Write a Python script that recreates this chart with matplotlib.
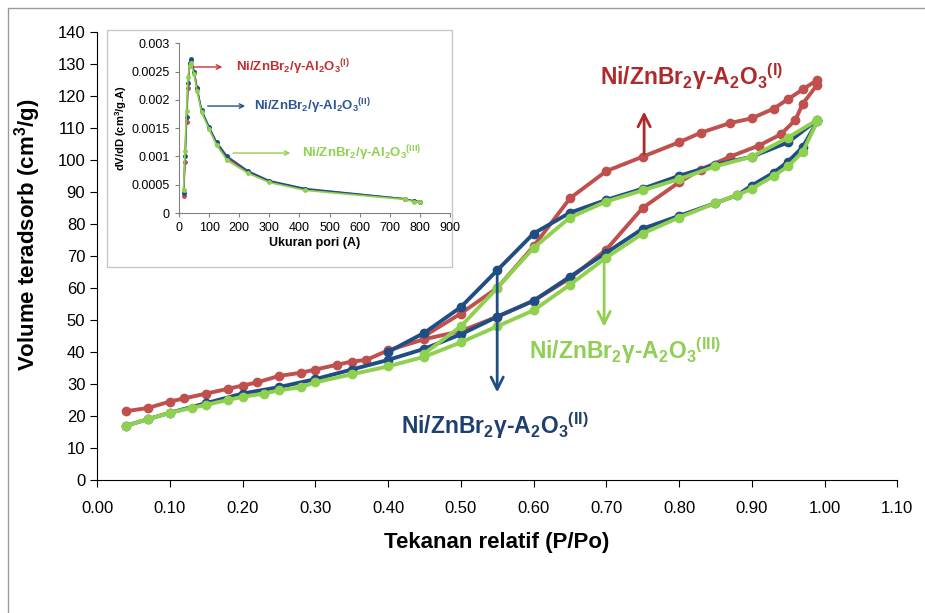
import matplotlib
matplotlib.use('Agg')
import matplotlib.pyplot as plt
from matplotlib.patches import Rectangle

plt.rcParams['font.family'] = ['Liberation Sans', 'DejaVu Sans']
plt.rcParams['mathtext.fontset'] = 'custom'
plt.rcParams['mathtext.rm'] = 'Liberation Sans'

# colours
red = '#c0504d'
blue = '#1f4e85'
green = '#8fd14f'

# isotherms: adsorption (lower) and desorption (upper) branches
red_ads_p = [0.04, 0.07, 0.10, 0.12, 0.15, 0.18, 0.20, 0.22, 0.25, 0.28, 0.30, 0.33, 0.35, 0.37, 0.40,
             0.45, 0.50, 0.55, 0.60, 0.65, 0.70, 0.75, 0.80, 0.83, 0.87, 0.91, 0.94, 0.96, 0.97, 0.99]
red_ads_v = [21.5, 22.5, 24.5, 25.5, 27.0, 28.5, 29.5, 30.5, 32.5, 33.5, 34.5, 36.0, 37.0, 37.5, 40.5,
             44.0, 46.5, 51.0, 56.0, 63.0, 72.0, 85.0, 93.0, 97.0, 101.0, 104.5, 108.0, 112.5, 117.5, 123.5]
red_des_p = [0.99, 0.97, 0.95, 0.93, 0.90, 0.87, 0.83, 0.80, 0.75, 0.70, 0.65, 0.60, 0.55, 0.50, 0.45]
red_des_v = [125.0, 122.0, 119.0, 116.0, 113.0, 111.5, 108.5, 105.5, 101.0, 96.5, 88.0, 73.0, 60.0, 52.0, 45.0]

blue_ads_p = [0.04, 0.07, 0.10, 0.15, 0.20, 0.25, 0.30, 0.35, 0.40, 0.45, 0.50, 0.55, 0.60, 0.65,
              0.70, 0.75, 0.80, 0.85, 0.88, 0.90, 0.93, 0.95, 0.97, 0.99]
blue_ads_v = [17.0, 19.0, 21.0, 24.0, 27.0, 29.0, 31.5, 34.5, 37.5, 41.0, 45.5, 51.0, 56.0, 63.5,
              71.0, 78.5, 82.5, 86.5, 89.0, 92.0, 96.0, 99.5, 104.0, 112.0]
blue_des_p = [0.99, 0.95, 0.90, 0.85, 0.80, 0.75, 0.70, 0.65, 0.60, 0.55, 0.50, 0.45, 0.40]
blue_des_v = [112.5, 105.5, 101.0, 98.5, 95.0, 91.0, 87.5, 83.5, 77.0, 65.5, 54.0, 46.0, 40.0]

green_ads_p = [0.04, 0.07, 0.10, 0.13, 0.15, 0.18, 0.20, 0.23, 0.25, 0.28, 0.30, 0.35, 0.40, 0.45,
               0.50, 0.55, 0.60, 0.65, 0.70, 0.75, 0.80, 0.85, 0.88, 0.90, 0.93, 0.95, 0.97, 0.99]
green_ads_v = [17.0, 19.0, 21.0, 22.5, 23.5, 25.0, 26.0, 27.0, 28.0, 29.0, 30.5, 33.0, 35.5, 38.5,
               43.0, 48.0, 53.0, 61.0, 69.5, 77.0, 82.0, 86.5, 89.0, 91.0, 95.0, 98.0, 102.5, 112.0]
green_des_p = [0.99, 0.95, 0.90, 0.85, 0.80, 0.75, 0.70, 0.65, 0.60, 0.55, 0.50, 0.45]
green_des_v = [112.5, 107.0, 101.0, 98.0, 94.0, 90.5, 87.0, 82.0, 72.5, 60.0, 48.0, 39.5]

# inset: pore size distribution
pore_d = [15, 20, 25, 30, 35, 40, 50, 60, 75, 100, 125, 160, 230, 300, 420, 750, 780, 800]
red_dv = [0.0003, 0.0009, 0.0016, 0.0022, 0.0026, 0.0027, 0.0025, 0.0022, 0.0018, 0.0015,
          0.00122, 0.00097, 0.00072, 0.00056, 0.00042, 0.00025, 0.00021, 0.0002]
blue_dv = [0.00035, 0.001, 0.0017, 0.0023, 0.00265, 0.00272, 0.0025, 0.0022, 0.00182, 0.00152,
           0.00125, 0.001, 0.00074, 0.00057, 0.00043, 0.00025, 0.00021, 0.0002]
green_dv = [0.0004, 0.0011, 0.0018, 0.0024, 0.0026, 0.00265, 0.00245, 0.00215, 0.00178, 0.00148,
            0.0012, 0.00093, 0.0007, 0.00054, 0.0004, 0.00024, 0.0002, 0.0002]

x_ticks = [0.0, 0.1, 0.2, 0.3, 0.4, 0.5, 0.6, 0.7, 0.8, 0.9, 1.0, 1.1]
y_ticks = list(range(0, 150, 10))

fig = plt.figure(figsize=(9.25, 6.13), dpi=100)
fig.patches.append(Rectangle((8/925, -0.1), 1.0, 1.1 - 8/613, transform=fig.transFigure,
                             fill=False, edgecolor='#9a9a9a', linewidth=1.0))

ax = fig.add_axes([0.105, 0.217, 0.865, 0.731])
for p, v, c in [(red_ads_p, red_ads_v, red), (red_des_p, red_des_v, red),
                (blue_ads_p, blue_ads_v, blue), (blue_des_p, blue_des_v, blue),
                (green_ads_p, green_ads_v, green), (green_des_p, green_des_v, green)]:
    ax.plot(p, v, color=c, marker='o', markersize=6, linewidth=2.8)

ax.set_xlim(0, 1.1)
ax.set_ylim(0, 140)
ax.set_xticks(x_ticks)
ax.set_xticklabels(['%.2f' % t for t in x_ticks], fontsize=12)
ax.set_yticks(y_ticks)
ax.tick_params(axis='y', labelsize=12, length=5, direction='out')
ax.tick_params(axis='x', length=5, direction='out', pad=10)
ax.spines['top'].set_visible(False)
ax.spines['right'].set_visible(False)
ax.set_xlabel('Tekanan relatif (P/Po)', fontsize=16, fontweight='bold', labelpad=12)
ax.set_ylabel('Volume teradsorb (cm$^\\mathregular{3}$/g)', fontsize=16, fontweight='bold')
ax.yaxis.set_label_coords(-0.068, 0.547)

lbl = 'Ni/ZnBr$_\\mathregular{2}$γ-A$_\\mathregular{2}$O$_\\mathregular{3}$$^\\mathregular{(%s)}$'
arrow = dict(arrowstyle='->', linewidth=2, mutation_scale=22)
ax.annotate('', xy=(0.752, 116), xytext=(0.752, 101), arrowprops=dict(arrow, color='#b02a2a'))
ax.text(0.817, 126, lbl % 'I', color='#b02a2a', fontsize=16.5, fontweight='bold', ha='center', va='center')
ax.annotate('', xy=(0.55, 26.5), xytext=(0.55, 65), arrowprops=dict(arrow, color=blue))
ax.text(0.547, 17, lbl % 'II', color='#1f3f6e', fontsize=16.5, fontweight='bold', ha='center', va='center')
ax.annotate('', xy=(0.697, 47), xytext=(0.697, 70), arrowprops=dict(arrow, color=green))
ax.text(0.726, 40.5, lbl % 'III', color='#8fcf52', fontsize=16.5, fontweight='bold', ha='center', va='center')

# inset
fig.patches.append(Rectangle((107/925, 1 - 267/613), 345/925, 237/613, transform=fig.transFigure,
                             facecolor='white', edgecolor='#c8c8c8', linewidth=1.0, zorder=2))
ins = fig.add_axes([0.1935, 0.6525, 0.293, 0.277])
ins.set_zorder(3)
for dv, c in [(red_dv, red), (blue_dv, blue), (green_dv, green)]:
    ins.plot(pore_d, dv, color=c, marker='o', markersize=2.5, linewidth=1.2)
ins.set_xlim(0, 900)
ins.set_ylim(0, 0.003)
ins.set_xticks(range(0, 1000, 100))
ins.set_yticks([0, 0.0005, 0.001, 0.0015, 0.002, 0.0025, 0.003])
ins.set_yticklabels(['0', '0.0005', '0.001', '0.0015', '0.002', '0.0025', '0.003'])
ins.tick_params(labelsize=9, length=3, color='#808080')
for s in ['top', 'right']:
    ins.spines[s].set_visible(False)
for s in ['left', 'bottom']:
    ins.spines[s].set_color('#808080')
ins.set_xlabel('Ukuran pori (A)', fontsize=9, fontweight='bold', labelpad=2)
ins.set_ylabel('dV/dD (cm$^\\mathregular{3}$/g.A)', fontsize=8, fontweight='bold', labelpad=2)

ilbl = 'Ni/ZnBr$_\\mathregular{2}$/γ-Al$_\\mathregular{2}$O$_\\mathregular{3}$$^\\mathregular{(%s)}$'
iarrow = dict(arrowstyle='->', linewidth=1, mutation_scale=8)
ins.annotate('', xy=(153, 0.00258), xytext=(40, 0.00258), arrowprops=dict(iarrow, color='#d03030'))
ins.text(190, 0.00258, ilbl % 'I', color='#c03030', fontsize=9.5, fontweight='bold', va='center')
ins.annotate('', xy=(229, 0.00189), xytext=(86, 0.00189), arrowprops=dict(iarrow, color=blue))
ins.text(250, 0.00189, ilbl % 'II', color='#2f5597', fontsize=9.5, fontweight='bold', va='center')
ins.annotate('', xy=(379, 0.00106), xytext=(170, 0.00106), arrowprops=dict(iarrow, color=green))
ins.text(410, 0.00106, ilbl % 'III', color='#8fd14f', fontsize=9.5, fontweight='bold', va='center')

fig.savefig('out.png', dpi=100)
